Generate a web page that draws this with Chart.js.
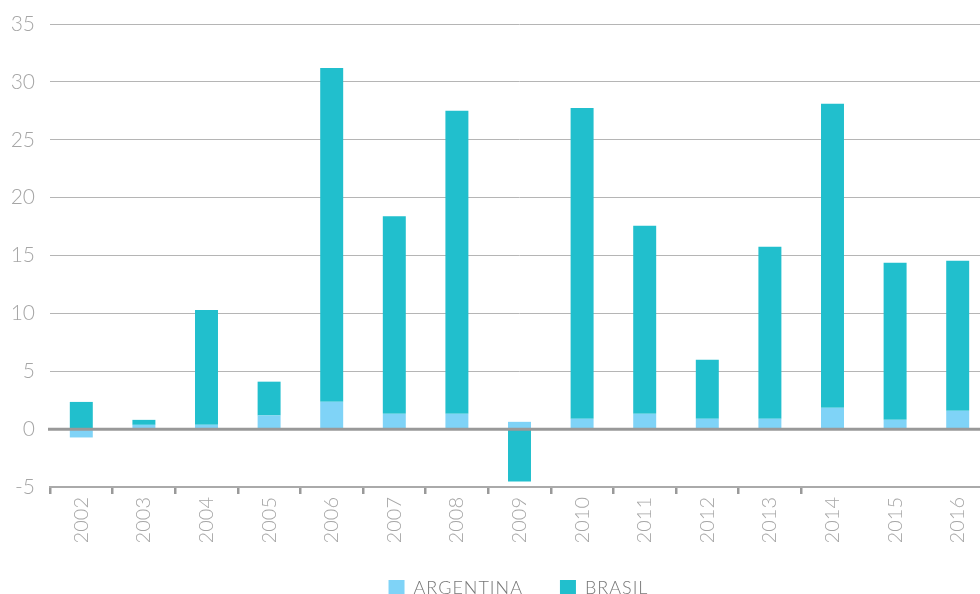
<!DOCTYPE html>
<html>
<head>
<meta charset="utf-8">
<script src="https://cdn.jsdelivr.net/npm/chart.js@4"></script>
<style>
  html, body { margin: 0; padding: 0; background: #fff; }
  #wrap { width: 980px; height: 594px; overflow: hidden; position: relative; }
  #box { width: 1022px; height: 607px; }
</style>
</head>
<body>
<div id="wrap"><div id="box"><canvas id="chart"></canvas></div></div>
<script>
// años
const years = ['2002', '2003', '2004', '2005', '2006', '2007', '2008', '2009',
  '2010', '2011', '2012', '2013', '2014', '2015', '2016'];

// valores (Brasil apilado encima de Argentina)
const argentina = [-0.72, 0.37, 0.37, 1.18, 2.36, 1.32, 1.32, 0.63, 0.89, 1.32, 0.89, 0.89, 1.84, 0.8, 1.58];
const brasil = [2.35, 0.43, 9.93, 2.92, 28.84, 17.08, 26.18, -4.52, 26.86, 16.24, 5.1, 14.86, 26.26, 13.57, 12.96];

const yMin = -5;
const yMax = 35;
const yStep = 5;

const FONT = 'Lato, "Open Sans", sans-serif';

// linea del cero por encima de las barras
const zeroLine = {
  id: 'zeroLine',
  afterDatasetsDraw(chart) {
    const { ctx, chartArea, scales } = chart;
    const y = scales.y.getPixelForValue(0);
    ctx.save();
    ctx.strokeStyle = '#999999';
    ctx.lineWidth = 3;
    ctx.beginPath();
    ctx.moveTo(chartArea.left - 2, y);
    ctx.lineTo(chartArea.right, y);
    ctx.stroke();
    ctx.restore();
  }
};

const chart = new Chart(document.getElementById('chart'), {
  type: 'bar',
  data: {
    labels: years,
    datasets: [{
      label: 'ARGENTINA',
      data: argentina,
      backgroundColor: '#7fd3f7',
      barPercentage: 0.367,
      categoryPercentage: 1
    }, {
      label: 'BRASIL',
      data: brasil,
      backgroundColor: '#21bfcd',
      barPercentage: 0.367,
      categoryPercentage: 1
    }]
  },
  options: {
    responsive: true,
    maintainAspectRatio: false,
    animation: false,
    layout: { padding: { top: 24, left: 0, right: 0, bottom: 0 } },
    plugins: {
      tooltip: { enabled: false },
      legend: {
        position: 'bottom',
        labels: {
          boxWidth: 16,
          boxHeight: 16,
          padding: 37,
          color: '#777777',
          font: { family: FONT, size: 18, weight: 300 }
        }
      }
    },
    scales: {
      x: {
        stacked: true,
        offset: true,
        grid: {
          display: true,
          drawOnChartArea: false,
          drawTicks: true,
          tickLength: 7,
          lineWidth: 2.5,
          color: (c) => (c.index <= 12 ? '#999999' : 'rgba(0,0,0,0)')
        },
        border: { display: true, color: '#aaaaaa', width: 2 },
        ticks: {
          minRotation: 90,
          maxRotation: 90,
          padding: 3,
          color: '#a6a6a6',
          font: { family: FONT, size: 20, weight: 300 }
        },
        afterFit: (s) => { s.height = 55; }
      },
      y: {
        stacked: true,
        min: yMin,
        max: yMax,
        grid: {
          color: '#b5b5b5',
          lineWidth: 1,
          drawTicks: false
        },
        border: { display: false },
        ticks: {
          stepSize: yStep,
          padding: 15,
          color: '#a6a6a6',
          font: { family: FONT, size: 21, weight: 300 }
        },
        afterFit: (s) => {
          s.width = 50;
          s.paddingTop = 0;
          s.paddingBottom = 0;
        }
      },
      dummy: {
        type: 'linear',
        position: 'right',
        display: true,
        grid: { display: false },
        border: { display: false },
        ticks: { display: false },
        afterFit: (s) => { s.width = 33; }
      }
    }
  },
  plugins: [zeroLine]
});

// leyenda con un poco de espaciado entre letras
const legendDraw = chart.legend.draw;
chart.legend.draw = function () {
  const ctx = this.ctx;
  ctx.save();
  ctx.letterSpacing = '1px';
  legendDraw.apply(this, arguments);
  ctx.restore();
};
chart.draw();
</script>
</body>
</html>
